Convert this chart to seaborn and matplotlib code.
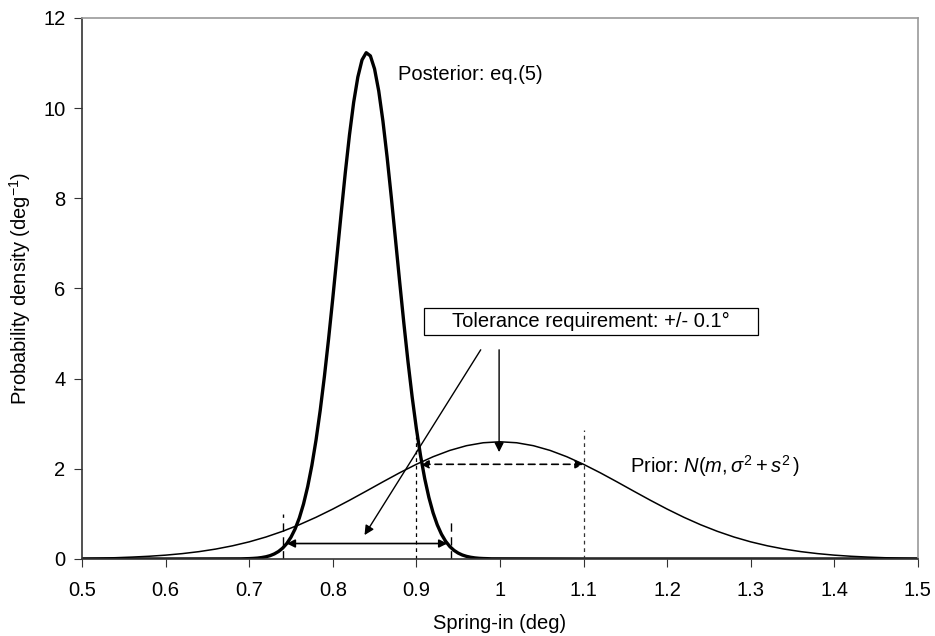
import numpy as np
import pandas as pd
import matplotlib
matplotlib.use("Agg")
import matplotlib.pyplot as plt
import matplotlib.patches as mpatches
import seaborn as sns

# -------------------------------------
# Data
# -------------------------------------
prior_x = [0.50, 0.52, 0.54, 0.56, 0.58, 0.60, 0.62, 0.64, 0.66, 0.68,
           0.70, 0.72, 0.74, 0.76, 0.78, 0.80, 0.82, 0.84, 0.86, 0.88,
           0.90, 0.92, 0.94, 0.96, 0.98, 1.00, 1.02, 1.04, 1.06, 1.08,
           1.10, 1.12, 1.14, 1.16, 1.18, 1.20, 1.22, 1.24, 1.26, 1.28,
           1.30, 1.32, 1.34, 1.36, 1.38, 1.40, 1.42, 1.44, 1.46, 1.48, 1.50]
prior_y = [0.013, 0.019, 0.028, 0.042, 0.060, 0.085, 0.119, 0.163, 0.220, 0.292,
           0.380, 0.487, 0.614, 0.760, 0.925, 1.107, 1.302, 1.505, 1.711, 1.912,
           2.100, 2.268, 2.408, 2.513, 2.578, 2.600, 2.578, 2.513, 2.408, 2.268,
           2.100, 1.912, 1.711, 1.505, 1.302, 1.107, 0.925, 0.760, 0.614, 0.487,
           0.380, 0.292, 0.220, 0.163, 0.119, 0.085, 0.060, 0.042, 0.028, 0.019, 0.013]

post_x = [0.50, 0.60, 0.69,
          0.700, 0.705, 0.710, 0.715, 0.720, 0.725, 0.730, 0.735, 0.740, 0.745,
          0.750, 0.755, 0.760, 0.765, 0.770, 0.775, 0.780, 0.785, 0.790, 0.795,
          0.800, 0.805, 0.810, 0.815, 0.820, 0.825, 0.830, 0.835, 0.840, 0.845,
          0.850, 0.855, 0.860, 0.865, 0.870, 0.875, 0.880, 0.885, 0.890, 0.895,
          0.900, 0.905, 0.910, 0.915, 0.920, 0.925, 0.930, 0.935, 0.940, 0.945,
          0.950, 0.955, 0.960, 0.965, 0.970, 0.975, 0.980,
          0.99, 1.10, 1.50]
post_y = [0.0, 0.0, 0.003,
          0.008, 0.013, 0.020, 0.032, 0.049, 0.074, 0.112, 0.165, 0.240, 0.343,
          0.483, 0.668, 0.910, 1.219, 1.605, 2.076, 2.640, 3.299, 4.050, 4.883,
          5.779, 6.716, 7.659, 8.571, 9.408, 10.13, 10.69, 11.07, 11.23, 11.16,
          10.87, 10.38, 9.714, 8.916, 8.030, 7.095, 6.153, 5.237, 4.376, 3.591,
          2.894, 2.292, 1.783, 1.364, 1.025, 0.758, 0.551, 0.394, 0.277, 0.192,
          0.131, 0.088, 0.058, 0.038, 0.024, 0.015, 0.010,
          0.004, 0.0, 0.0]

x_ticks = [0.5, 0.6, 0.7, 0.8, 0.9, 1.0, 1.1, 1.2, 1.3, 1.4, 1.5]
x_tick_labels = ["0.5", "0.6", "0.7", "0.8", "0.9", "1", "1.1", "1.2", "1.3", "1.4", "1.5"]
y_ticks = [0, 2, 4, 6, 8, 10, 12]

prior_df = pd.DataFrame({"x": prior_x, "y": prior_y})
post_df = pd.DataFrame({"x": post_x, "y": post_y})

# -------------------------------------
# Style
# -------------------------------------
sns.set_style("ticks")
plt.rcParams["font.family"] = ["Liberation Sans", "DejaVu Sans"]
plt.rcParams["mathtext.fontset"] = "custom"
plt.rcParams["mathtext.rm"] = "Liberation Sans"
plt.rcParams["mathtext.it"] = "Liberation Sans:italic"
plt.rcParams["text.color"] = "black"
plt.rcParams["axes.labelcolor"] = "black"
plt.rcParams["xtick.color"] = "black"
plt.rcParams["ytick.color"] = "black"

FS = 14.5

fig = plt.figure(figsize=(9.35, 6.36), dpi=100)
ax = fig.add_axes([0.0877, 0.1211, 0.894, 0.8506])

sns.lineplot(data=prior_df, x="x", y="y", ax=ax, color="black", lw=1.1)
sns.lineplot(data=post_df, x="x", y="y", ax=ax, color="black", lw=2.4)

ax.set_xlim(0.5, 1.5)
ax.set_ylim(0, 12)
ax.set_xticks(x_ticks)
ax.set_xticklabels(x_tick_labels)
ax.set_yticks(y_ticks)
ax.tick_params(axis="x", labelsize=FS, length=6, pad=10, color="#333333")
ax.tick_params(axis="y", labelsize=FS, length=6, pad=6, color="#333333")
ax.set_xlabel("Spring-in (deg)", fontsize=FS, labelpad=10)
ax.set_ylabel("Probability density (deg$^{-1}$)", fontsize=FS, labelpad=7)

for side in ["left", "bottom"]:
    ax.spines[side].set_color("#333333")
    ax.spines[side].set_linewidth(1.2)
for side in ["top", "right"]:
    ax.spines[side].set_visible(True)
    ax.spines[side].set_color("#999999")
    ax.spines[side].set_linewidth(1.2)

# -------------------------------------
# Annotations
# -------------------------------------
y_half_post = post_y[post_x.index(0.745)]
y_prior_11 = prior_y[prior_x.index(1.10)]

# guide lines
ax.plot([0.741, 0.741], [0.0, 1.0], color="black", lw=1.0, ls=(0, (6, 4)))
ax.plot([0.942, 0.942], [0.0, 0.85], color="black", lw=1.0, ls=(0, (6, 4)))
ax.plot([0.9, 0.9], [0.0, 2.7], color="black", lw=0.9, ls=(0, (3, 3)))
ax.plot([1.1, 1.1], [0.0, 2.87], color="#333333", lw=0.9, ls=(0, (3, 3)))

# +/- 0.1 on posterior
ax.annotate("", xy=(0.745, y_half_post), xytext=(0.937, y_half_post),
            arrowprops=dict(arrowstyle="<|-|>", color="black", lw=1.2,
                            mutation_scale=12, shrinkA=0, shrinkB=0))
# +/- 0.1 on prior (dashed)
ax.annotate("", xy=(0.905, y_prior_11), xytext=(1.1, y_prior_11),
            arrowprops=dict(arrowstyle="<|-|>", color="black", lw=1.2, ls=(0, (4, 3)),
                            mutation_scale=12, shrinkA=0, shrinkB=0))

# tolerance box
ax.add_patch(mpatches.Rectangle((0.9091, 4.97), 0.3995, 0.60, fc="white",
                                ec="black", lw=0.9, zorder=3))
ax.text(1.1088, 5.27, "Tolerance requirement: +/- 0.1°", fontsize=FS,
        ha="center", va="center", zorder=4)

ax.annotate("", xy=(0.838, 0.53), xytext=(0.977, 4.64),
            arrowprops=dict(arrowstyle="-|>", color="black", lw=1.0,
                            mutation_scale=14, shrinkA=0, shrinkB=0))
ax.annotate("", xy=(0.999, 2.37), xytext=(0.999, 4.64),
            arrowprops=dict(arrowstyle="-|>", color="black", lw=1.0,
                            mutation_scale=14, shrinkA=0, shrinkB=0))

ax.text(0.878, 10.74, "Posterior: eq.(5)", fontsize=FS, ha="left", va="center")
ax.text(1.155, 2.07, r"Prior: $N(m, \sigma^2 +s^2\,)$", fontsize=FS, ha="left", va="center")

plt.savefig("out.png", dpi=100)
